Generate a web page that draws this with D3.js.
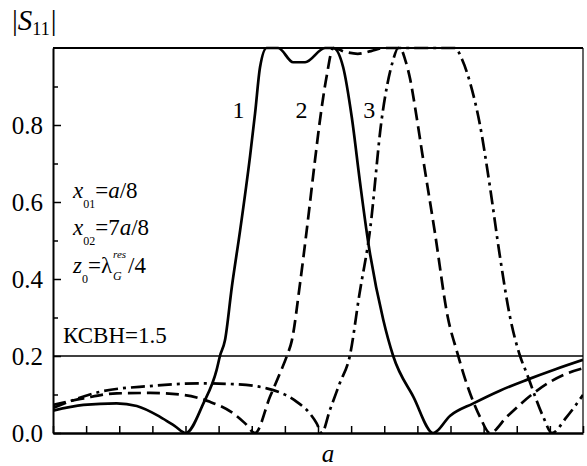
<!DOCTYPE html>
<html>
<head>
<meta charset="utf-8">
<script src="https://cdn.jsdelivr.net/npm/d3@7"></script>
<style>
  body { margin: 0; background: #fff; }
  text { font-family: "Liberation Serif", "Times New Roman", serif; fill: #000; }
</style>
</head>
<body>
<svg id="chart" width="587" height="466"></svg>
<script>
// |S11| vs a, three curves (x in tick units 0..16)
const curve1 = [ // solid
  [0, 0.058], [0.92, 0.073], [1.92, 0.077], [2.53, 0.070], [3.23, 0.042], [3.68, 0.018],
  [4.01, 0], [4.54, 0.077], [4.94, 0.164], [5.04, 0.2], [5.19, 0.24], [5.40, 0.38],
  [5.65, 0.527], [5.95, 0.72], [6.10, 0.83], [6.25, 0.95], [6.45, 1.0], [6.80, 1.0],
  [7.25, 0.963], [7.61, 0.963], [8.21, 1.0], [8.46, 1.0], [8.76, 0.95], [9.02, 0.82],
  [9.27, 0.65], [9.52, 0.493], [9.97, 0.294], [10.27, 0.2], [10.88, 0.094], [11.48, 0],
  [11.99, 0.045], [12.69, 0.077], [13.49, 0.11], [14.30, 0.138], [15.15, 0.165], [16, 0.19]
];
const curve2 = [ // dashed
  [0, 0.073], [0.92, 0.09], [1.92, 0.103], [2.93, 0.104], [3.93, 0.099], [4.74, 0.081],
  [5.44, 0.051], [5.80, 0.025], [6.10, 0], [6.55, 0.094], [6.85, 0.155], [7.06, 0.2],
  [7.21, 0.24], [7.46, 0.39], [7.66, 0.527], [7.91, 0.709], [8.06, 0.813], [8.26, 0.926],
  [8.46, 1.0], [8.82, 0.99], [9.20, 0.985], [9.60, 0.992], [10.0, 1.0], [10.48, 1.0],
  [10.63, 0.97], [10.78, 0.92], [10.96, 0.83], [11.14, 0.73], [11.53, 0.52], [11.92, 0.30],
  [12.20, 0.21], [12.50, 0.125], [12.89, 0.042], [13.19, 0], [13.70, 0.042], [14.50, 0.103],
  [15.41, 0.151], [16, 0.168]
];
const curve3 = [ // dash-dot
  [0, 0.065], [1.42, 0.107], [2.93, 0.122], [4.44, 0.129], [5.44, 0.127], [6.45, 0.116],
  [7.36, 0.081], [7.76, 0.05], [7.96, 0.025], [8.11, 0], [8.36, 0.06], [8.66, 0.13],
  [8.96, 0.2], [9.25, 0.36], [9.57, 0.527], [9.92, 0.813], [10.26, 0.966], [10.42, 1.0],
  [12.14, 1.0], [12.35, 0.97], [12.59, 0.91], [12.89, 0.80], [13.19, 0.64], [13.49, 0.46],
  [13.80, 0.30], [14.10, 0.2], [14.30, 0.155], [14.80, 0.042], [15.06, 0], [15.51, 0.042],
  [16, 0.099]
];

const vswrLevel = 0.2;                        // КСВН=1.5 line
const yMajorTicks = [0, 0.2, 0.4, 0.6, 0.8];
const yMinorTicks = [0.1, 0.3, 0.5, 0.7, 0.9];
const xTicks = [0, 1, 2, 3, 4, 5, 6, 7, 8, 9, 10, 11, 12, 13, 14, 15, 16];
const curveLabels = [["1", 5.6], ["2", 7.5], ["3", 9.55]];

const margin = {top: 48, right: 4, bottom: 33, left: 53};
const width = 587 - margin.left - margin.right;
const height = 466 - margin.top - margin.bottom;
const serif = "'Liberation Serif', 'Times New Roman', serif";

const svg = d3.select("#chart")
  .append("g")
    .attr("transform", `translate(${margin.left}, ${margin.top})`);

const x = d3.scaleLinear().domain([0, 16]).range([0, width]);
const y = d3.scaleLinear().domain([0, 1]).range([height, 0]);

// clip for the curves
svg.append("clipPath").attr("id", "plot-clip")
  .append("rect")
    .attr("x", 0).attr("y", -2)
    .attr("width", width).attr("height", height + 2);

// reference line
svg.append("line")
  .attr("x1", 0).attr("x2", width)
  .attr("y1", y(vswrLevel)).attr("y2", y(vswrLevel))
  .attr("stroke", "#000").attr("stroke-width", 1.3);

const line = d3.line()
  .x(d => x(d[0]))
  .y(d => y(d[1]))
  .curve(d3.curveMonotoneX);

const curves = [
  {data: curve1, dash: null},
  {data: curve2, dash: "13,6"},
  {data: curve3, dash: "14,5,3,5"}
];

const curveGroup = svg.append("g").attr("clip-path", "url(#plot-clip)");
curves.forEach(c => {
  curveGroup.append("path")
    .datum(c.data)
    .attr("fill", "none")
    .attr("stroke", "#000")
    .attr("stroke-width", 2.7)
    .attr("stroke-dasharray", c.dash)
    .attr("d", line);
});

// frame: top thick, right thin
svg.append("line")
  .attr("x1", 0).attr("x2", width).attr("y1", 0).attr("y2", 0)
  .attr("stroke", "#000").attr("stroke-width", 2.2);
svg.append("line")
  .attr("x1", width).attr("x2", width).attr("y1", 0).attr("y2", height)
  .attr("stroke", "#000").attr("stroke-width", 1.2);

// y axis, ticks pointing inside
const yAxis = svg.append("g")
  .call(d3.axisLeft(y).tickValues(yMajorTicks).tickSize(-8).tickSizeOuter(0)
    .tickPadding(10).tickFormat(d3.format(".1f")));
yAxis.attr("font-family", serif).attr("font-size", 25);
yAxis.select(".domain").attr("stroke-width", 2);
yAxis.selectAll(".tick line").attr("stroke-width", 1.5);

svg.append("g")
  .call(d3.axisLeft(y).tickValues(yMinorTicks).tickSize(-5).tickSizeOuter(0).tickFormat(""))
  .call(g => g.select(".domain").remove())
  .selectAll(".tick line").attr("stroke-width", 1.5);

// x axis, no labels, ticks pointing inside
const xAxis = svg.append("g")
  .attr("transform", `translate(0, ${height})`)
  .call(d3.axisBottom(x).tickValues(xTicks).tickSize(-7).tickSizeOuter(0).tickFormat(""));
xAxis.select(".domain").attr("stroke-width", 2.5);
xAxis.selectAll(".tick line").attr("stroke-width", 1.5);

// x axis title
svg.append("text")
  .attr("x", x(8.3)).attr("y", height + 29)
  .attr("text-anchor", "middle")
  .style("font-size", "25px").style("font-style", "italic")
  .text("a");

// y axis title |S11|
const yTitle = svg.append("text")
  .attr("x", -41).attr("y", -18)
  .style("font-size", "29px");
yTitle.append("tspan").text("|");
yTitle.append("tspan").style("font-style", "italic").text("S");
yTitle.append("tspan").attr("dy", 5).style("font-size", "18px").text("11");
yTitle.append("tspan").attr("dy", -5).attr("dx", 1).text("|");

// curve numbers
svg.selectAll(".curve-label")
  .data(curveLabels)
  .enter().append("text")
    .attr("class", "curve-label")
    .attr("x", d => x(d[1]))
    .attr("y", 118 - margin.top)
    .attr("text-anchor", "middle")
    .style("font-size", "24px")
    .text(d => d[0]);

// VSWR label
svg.append("text")
  .attr("x", 10).attr("y", y(vswrLevel) - 13)
  .style("font-size", "23px")
  .text("КСВН=1.5");

// parameter notes
const notes = svg.append("g").attr("transform", "translate(20, 0)");
function note(row, yPos) {
  const t = notes.append("text").attr("x", 0).attr("y", yPos).style("font-size", "23px");
  row.forEach(p => {
    const s = t.append("tspan").text(p.t);
    if (p.i) s.style("font-style", "italic");
    if (p.size) s.style("font-size", p.size + "px");
    if (p.dy) s.attr("dy", p.dy);
    if (p.dx) s.attr("dx", p.dx);
  });
  return t;
}
note([{t: "x", i: 1}, {t: "01", size: 12, dy: 10}, {t: "=", dy: -10}, {t: "a", i: 1}, {t: "/8"}], 198 - margin.top);
note([{t: "x", i: 1}, {t: "02", size: 12, dy: 10}, {t: "=7", dy: -10}, {t: "a", i: 1}, {t: "/8"}], 235 - margin.top);
const zNote = note([{t: "z", i: 1}, {t: "0", size: 12, dy: 10}, {t: "=λ", dy: -10}], 273 - margin.top);
// super/subscripts of λ drawn as their own small texts
const lamEnd = zNote.node().getComputedTextLength();
notes.append("text").attr("x", lamEnd + 1).attr("y", 273 - margin.top - 15)
  .style("font-size", "11px").style("font-style", "italic").text("res");
notes.append("text").attr("x", lamEnd + 1).attr("y", 273 - margin.top + 7)
  .style("font-size", "12px").style("font-style", "italic").text("G");
notes.append("text").attr("x", lamEnd + 16).attr("y", 273 - margin.top)
  .style("font-size", "23px").text("/4");
</script>
</body>
</html>
